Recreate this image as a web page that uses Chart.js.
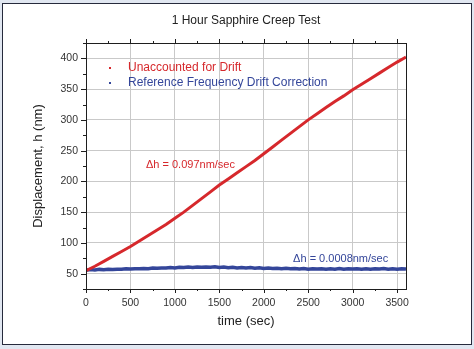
<!DOCTYPE html>
<html lang="en">
<head>
<meta charset="UTF-8">
<title>1 Hour Sapphire Creep Test</title>
<script src="https://cdn.jsdelivr.net/npm/chart.js"></script>
<style>
  html, body { margin: 0; padding: 0; background: #e1e7f1; }
  body { width: 474px; height: 349px; position: relative; overflow: hidden; }
  .panel { position: absolute; left: 2px; top: 3px; width: 470px; height: 342px; box-sizing: border-box;
           background: #fff; border: 1px solid #262a3c; }
  #creep { position: absolute; left: 0; top: 0; }
</style>
</head>
<body>
<div class="panel"></div>
<canvas id="creep" width="474" height="349"></canvas>

<script>
// time axis (sec) and the two displacement traces (nm)
const timeRed = [0, 100, 200, 300, 400, 500, 600, 700, 800, 900, 1000, 1100, 1200, 1300, 1400, 1500,
  1600, 1700, 1800, 1900, 2000, 2100, 2200, 2300, 2400, 2500, 2600, 2700, 2800, 2900, 3000,
  3100, 3200, 3300, 3400, 3500, 3600];
const driftRed = [55, 62, 70, 78, 86, 94, 103, 112, 121, 130, 140, 150, 161, 172, 183, 194,
  204, 214, 224, 234, 245, 256, 267, 278, 289, 300, 310, 320, 330, 339, 349,
  358, 367, 376, 385, 394, 402];

const timeBlue = [0, 50, 100, 150, 200, 250, 300, 350, 400, 450, 500, 550, 600, 650, 700, 750,
  800, 850, 900, 950, 1000, 1050, 1100, 1150, 1200, 1250, 1300, 1350, 1400, 1450, 1500, 1550,
  1600, 1650, 1700, 1750, 1800, 1850, 1900, 1950, 2000, 2050, 2100, 2150, 2200, 2250, 2300, 2350,
  2400, 2450, 2500, 2550, 2600, 2650, 2700, 2750, 2800, 2850, 2900, 2950, 3000, 3050, 3100, 3150,
  3200, 3250, 3300, 3350, 3400, 3450, 3500, 3550, 3600];
const correctedBlue = [55.4, 56.5, 56.1, 56.9, 56.3, 57.1, 56.9, 57.3, 57.0, 58.0, 57.4, 58.1, 57.9, 58.4, 58.1, 59.0,
  58.6, 59.2, 59.0, 59.9, 59.3, 60.3, 59.8, 60.6, 60.0, 60.9, 60.2, 60.7, 60.4, 61.0, 59.9, 60.6,
  59.6, 60.4, 59.3, 60.0, 59.2, 59.8, 58.8, 59.6, 58.5, 59.2, 58.3, 58.8, 58.0, 58.7, 57.8, 58.4,
  57.6, 58.2, 57.3, 58.0, 57.4, 57.9, 57.1, 57.9, 57.3, 58.2, 57.2, 58.1, 57.4, 58.0, 57.2, 58.1,
  57.3, 58.0, 57.4, 58.2, 57.2, 57.9, 57.3, 58.1, 57.3];

// labelled tick values
const xMajor = [0, 500, 1000, 1500, 2000, 2500, 3000, 3500];
const yMajor = [50, 100, 150, 200, 250, 300, 350, 400];

const RED = '#d6282c';
const BLUE = '#34469a';
const FONT = "'Liberation Sans', Arial, sans-serif";

// ticks every `step` inside the axis range, major ones get labels
function stepTicks(scale, step) {
  const out = [];
  for (let v = Math.ceil(scale.min / step) * step; v <= scale.max; v += step) out.push({ value: v });
  scale.ticks = out;
}

// border box, outward tick marks, titles, legend and slope notes
const decorations = {
  id: 'decorations',
  afterDraw(chart) {
    const { ctx, chartArea: a, scales: { x, y } } = chart;
    ctx.save();
    ctx.strokeStyle = '#1e1e1e';
    ctx.lineWidth = 1;
    ctx.strokeRect(Math.round(a.left) + 0.5, Math.round(a.top) + 0.5,
      Math.round(a.right - a.left), Math.round(a.bottom - a.top));

    ctx.beginPath();
    x.ticks.forEach(t => {
      const len = xMajor.includes(t.value) ? 4 : 2;
      const px = Math.round(x.getPixelForValue(t.value)) + 0.5;
      ctx.moveTo(px, a.bottom); ctx.lineTo(px, a.bottom + len);
      ctx.moveTo(px, a.top); ctx.lineTo(px, a.top - len);
    });
    y.ticks.forEach(t => {
      const len = yMajor.includes(t.value) ? 5 : 3;
      const py = Math.round(y.getPixelForValue(t.value)) + 0.5;
      ctx.moveTo(a.left, py); ctx.lineTo(a.left - len, py);
    });
    ctx.stroke();

    const cx = (a.left + a.right) / 2;
    ctx.fillStyle = '#222';
    ctx.textBaseline = 'middle';
    ctx.textAlign = 'center';
    ctx.font = '12px ' + FONT;
    ctx.fillText('1 Hour Sapphire Creep Test', cx, 21);
    ctx.font = '13px ' + FONT;
    ctx.fillText('time (sec)', cx, 321);
    ctx.save();
    ctx.translate(38, (a.top + a.bottom) / 2);
    ctx.rotate(-Math.PI / 2);
    ctx.fillText('Displacement, h (nm)', 0, 0);
    ctx.restore();

    // legend
    ctx.textAlign = 'left';
    ctx.font = '12px ' + FONT;
    chart.data.datasets.forEach((ds, i) => {
      const ly = 68 + i * 15;
      ctx.fillStyle = ds.borderColor;
      ctx.fillRect(109, ly - 1, 2, 2);
      ctx.fillText(ds.label, 128, ly);
    });

    // slope notes
    ctx.font = '11px ' + FONT;
    ctx.fillStyle = RED;
    ctx.fillText('\u0394h = 0.097nm/sec', x.getPixelForValue(675), y.getPixelForValue(226));
    ctx.fillStyle = BLUE;
    ctx.fillText('\u0394h = 0.0008nm/sec', x.getPixelForValue(2330), y.getPixelForValue(74));
    ctx.restore();
  }
};

new Chart(document.getElementById('creep'), {
  type: 'line',
  data: {
    datasets: [
      {
        label: 'Unaccounted for Drift',
        data: timeRed.map((t, i) => ({ x: t, y: driftRed[i] })),
        borderColor: RED,
        borderWidth: 3,
        pointRadius: 0,
        tension: 0
      },
      {
        label: 'Reference Frequency Drift Correction',
        data: timeBlue.map((t, i) => ({ x: t, y: correctedBlue[i] })),
        borderColor: BLUE,
        borderWidth: 3.5,
        pointRadius: 0,
        tension: 0
      }
    ]
  },
  options: {
    responsive: false,
    animation: false,
    layout: { padding: { left: 0, right: 68, top: 43, bottom: 0 } },
    plugins: { legend: { display: false }, tooltip: { enabled: false } },
    scales: {
      x: {
        type: 'linear',
        min: 0,
        max: 3600,
        afterFit(scale) { scale.height = 60; },
        afterBuildTicks(scale) { stepTicks(scale, 250); },
        border: { display: false },
        grid: {
          drawTicks: false,
          color: c => xMajor.includes(c.tick.value) && c.tick.value !== 0 ? '#c9c9c9' : 'transparent'
        },
        ticks: {
          autoSkip: false,
          maxRotation: 0,
          padding: 8,
          color: '#333',
          font: { family: FONT, size: 10.5 },
          callback: v => xMajor.includes(v) ? v : ''
        }
      },
      y: {
        min: 25,
        max: 425,
        afterFit(scale) { scale.width = 86; },
        afterBuildTicks(scale) { stepTicks(scale, 25); },
        border: { display: false },
        grid: {
          drawTicks: false,
          color: c => yMajor.includes(c.tick.value) ? '#c9c9c9' : 'transparent'
        },
        ticks: {
          autoSkip: false,
          padding: 8,
          color: '#333',
          font: { family: FONT, size: 10.5 },
          callback: v => yMajor.includes(v) ? v : ''
        }
      }
    }
  },
  plugins: [decorations]
});
</script>
</body>
</html>
